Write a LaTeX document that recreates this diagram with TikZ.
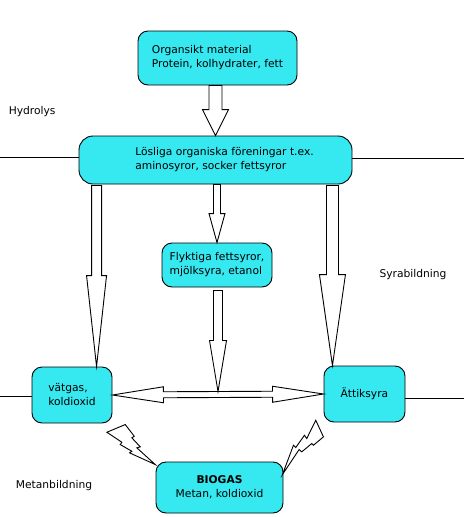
\documentclass[tikz,border=0pt]{standalone}
\usepackage{fontspec}
\setmainfont{DejaVu Sans}
\usetikzlibrary{calc}
\definecolor{boxcyan}{RGB}{54,232,240}
\tikzset{
  box/.style={draw, fill=boxcyan, rounded corners=10pt, align=left},
  fat/.style={draw, fill=white, line join=miter},
  bolt/.style={draw, fill=white, line join=miter},
}
% fat hollow arrow: start, tip, half shaft, half head, head length
\newcommand\fatarrow[5]{%
  \coordinate (fa-h) at ($(#2)!#5!(#1)$);
  \draw[fat] ($(#1)!#3!90:(#2)$) -- ($(fa-h)!#3!-90:(#1)$) -- ($(fa-h)!#4!-90:(#1)$) -- (#2)
    -- ($(fa-h)!#4!90:(#1)$) -- ($(fa-h)!#3!90:(#1)$) -- ($(#1)!#3!-90:(#2)$) -- cycle;}
% same, heads at both ends
\newcommand\dblarrow[5]{%
  \coordinate (da-a) at ($(#1)!#5!(#2)$);
  \coordinate (da-b) at ($(#2)!#5!(#1)$);
  \draw[fat] (#1) -- ($(da-a)!#4!90:(#2)$) -- ($(da-a)!#3!90:(#2)$) -- ($(da-b)!#3!-90:(#1)$)
    -- ($(da-b)!#4!-90:(#1)$) -- (#2) -- ($(da-b)!#4!90:(#1)$) -- ($(da-b)!#3!90:(#1)$)
    -- ($(da-a)!#3!-90:(#2)$) -- ($(da-a)!#4!-90:(#2)$) -- cycle;}
\begin{document}
\begin{tikzpicture}[x=1pt, y=-1pt, line width=0.9pt, font=\fontsize{10.7}{14}\selectfont]
\useasboundingbox (0,0) rectangle (464,517);

\node at (217.5,58) [box, minimum width=159, minimum height=54] (organ) {Organsikt material\\Protein, kolhydrater, fett};
\node at (215.5,160) [box, minimum width=273, minimum height=48, rounded corners=14pt] (losl) {\hspace*{18pt}Lösliga organiska föreningar t.ex.\\\hspace*{18pt}aminosyror, socker fettsyror};
\node at (217,265) [box, minimum width=110, minimum height=44] (flykt) {Flyktiga fettsyror,\\mjölksyra, etanol};
\node at (72,395) [box, minimum width=80, minimum height=56] (vaetgas) {vätgas,\\koldioxid};
\node at (364.5,394) [box, minimum width=81, minimum height=56] (attik) {Ättiksyra};
\node at (219.5,487.5) [box, align=center, minimum width=127, minimum height=51] (biogas) {\textbf{BIOGAS}\\Metan, koldioxid};

\node[anchor=west] at (5,112) (hydr) {Hydrolys};
\node at (413,275) (syra) {Syrabildning};
\node at (54,486) (metan) {Metanbildning};

% phase lines
\coordinate (hydL) at (0,157);
\coordinate (hydR) at (464,158);
\coordinate (metL) at (0,396);
\coordinate (metR) at (464,398);
\draw (hydL) -- (hydL -| losl.west);
\draw (losl.east |- hydR) -- (hydR);
\draw (metL) -- (metL -| vaetgas.west);
\draw (attik.east |- metR) -- (metR);

% fat arrows
\coordinate (osrc) at (losl.north |- organ.south);
\coordinate (lsrc) at ($(losl.south west)+(18,1)$);
\coordinate (ltip) at (lsrc |- vaetgas.north);
\coordinate (rsrc) at ($(losl.south east)+(-20,1)$);
\coordinate (rtip) at (rsrc |- attik.north);
\coordinate (msrc) at (flykt.north |- losl.south);
\coordinate (fsrc) at ($(flykt.south)+(1,3)$);
\coordinate (junc) at ($(vaetgas.east)!0.5!(attik.west)+(0,-3)$);
\fatarrow{osrc}{losl.north}{6.5pt}{13pt}{26pt}
\fatarrow{lsrc}{ltip}{5pt}{10pt}{91pt}
\fatarrow{rsrc}{rtip}{6pt}{13pt}{91pt}
\fatarrow{msrc}{flykt.north}{3.5pt}{8pt}{29pt}
\dblarrow{vaetgas.east}{attik.west}{3pt}{8pt}{51pt}
\fatarrow{fsrc}{junc}{4.5pt}{8.5pt}{51pt}

% lightning
\draw[bolt, shift={(biogas.north west)}] (-48.7,-29.3) -- (-30.3,-37) -- (-21.3,-25.3) -- (-23.7,-23.7)
  -- (-15.3,-14.7) -- (-18.7,-13.7) -- (-0.3,3) -- (-26,-8.7) -- (-23.7,-10.3) -- (-35.3,-17)
  -- (-33.7,-19.3) -- cycle;
\draw[bolt, shift={(biogas.north east)}] (-1,13) -- (10,-16.3) -- (12.3,-14) -- (21,-26.3)
  -- (23.3,-23) -- (32.3,-41.3) -- (40,-24.7) -- (30,-16.3) -- (28.3,-18) -- (18.3,-9.7)
  -- (15.7,-12) -- cycle;
\end{tikzpicture}
\end{document}
